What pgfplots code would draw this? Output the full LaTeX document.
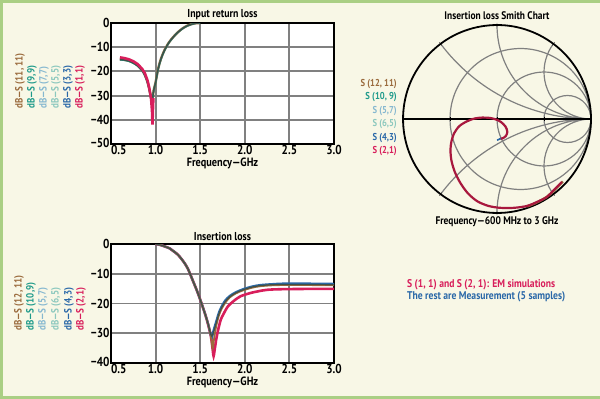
\documentclass[border=0pt]{standalone}
\usepackage{pgfplots}
\pgfplotsset{compat=1.18}
\usepgfplotslibrary{smithchart}
\usepackage{fontspec}
\setmainfont{PT Sans}[FakeStretch=0.86]
\definecolor{bg}{HTML}{F8F7E6}
\definecolor{frame}{HTML}{AACF84}
\definecolor{cbrown}{HTML}{9A6A3C}
\definecolor{cteal}{HTML}{1E9A8A}
\definecolor{clblue}{HTML}{86B8D0}
\definecolor{clteal}{HTML}{8CC8BE}
\definecolor{cblue}{HTML}{2A68A8}
\definecolor{ccrim}{HTML}{D81E5B}
\definecolor{cdark}{HTML}{3E5048}
\definecolor{sred}{HTML}{A8183E}
\definecolor{gridc}{HTML}{808080}

\pgfplotsset{
  rect/.style={
    scale only axis, width=223pt, xmin=0.5, xmax=3,
    xtick={0.5,1,1.5,2,2.5,3},
    xticklabels={\makebox[0pt][l]{0.5},1.0,1.5,2.0,2.5,3.0},
    grid=major, major tick length=0pt,
    axis line style={line width=2pt},
    grid style={line width=1.9pt, gridc},
    axis background/.style={fill=white},
    tick label style={font=\bfseries\fontsize{13}{14}\selectfont},
    xticklabel style={yshift=2pt},
    yticklabel style={xshift=2pt},
    title style={font=\bfseries\fontsize{11.5}{12}\selectfont, yshift=-6pt},
    xlabel style={font=\bfseries\fontsize{12}{13}\selectfont, yshift=4pt},
    clip=true,
  }
}

\begin{document}
\begin{tikzpicture}[x=1pt,y=1pt]
\fill[bg] (0,0) rectangle (600,399);
\useasboundingbox (0,0) rectangle (600,399);
\fill[frame] (0,0) rectangle (3,399);
\fill[frame] (0,396) rectangle (600,399);
\fill[frame] (0,0) rectangle (600,2.5);

% ---------------- Input return loss ----------------
\begin{axis}[rect, at={(111pt,255pt)}, anchor=south west, height=121pt,
  ymin=-50, ymax=0, ytick={-50,-40,-30,-20,-10,0},
  yticklabels={\raisebox{3pt}{−50},−40,−30,−20,−10,0},
  title={Input return loss}, xlabel={Frequency—GHz}]
\addplot[cbrown, line width=2.4pt, smooth] coordinates {
(0.60,-15.0) (0.65,-15.2) (0.70,-15.6) (0.75,-16.4) (0.80,-17.6) (0.85,-19.6)
(0.88,-21.5) (0.91,-24.5) (0.93,-27.5) (0.95,-31.0) (0.96,-32.0) (0.97,-30.0)
(0.98,-27.5) (1.00,-24.5) (1.03,-18.7) (1.06,-14.8) (1.10,-11.2) (1.15,-8.0)
(1.20,-5.7) (1.25,-3.8) (1.30,-2.3) (1.35,-1.2) (1.40,-0.5) (1.45,-0.1) (1.50,0)};
\addplot[cteal, line width=1.6pt, smooth] coordinates {
(0.60,-15.2) (0.65,-15.4) (0.70,-15.8) (0.75,-16.6) (0.80,-17.8) (0.85,-19.8)
(0.88,-21.7) (0.91,-24.7) (0.93,-27.8) (0.95,-31.5) (0.96,-32.5) (0.97,-30.2)
(0.98,-27.7) (1.00,-24.7) (1.03,-18.9) (1.06,-15.0) (1.10,-11.4) (1.15,-8.1)
(1.20,-5.8) (1.25,-3.9) (1.30,-2.4) (1.35,-1.3) (1.40,-0.6) (1.45,-0.1) (1.50,0)};
\addplot[cdark, line width=1.4pt, smooth] coordinates {
(0.60,-15.1) (0.65,-15.3) (0.70,-15.7) (0.75,-16.5) (0.80,-17.7) (0.85,-19.7)
(0.88,-21.6) (0.91,-24.6) (0.93,-27.6) (0.95,-31.2) (0.96,-32.3) (0.97,-30.1)
(0.98,-27.6) (1.00,-24.6) (1.03,-18.8) (1.06,-14.9) (1.10,-11.3) (1.15,-8.05)
(1.20,-5.75) (1.25,-3.85) (1.30,-2.35) (1.35,-1.25) (1.40,-0.55) (1.45,-0.1) (1.50,0)};
\addplot[ccrim, line width=2.6pt] coordinates {
(0.60,-14.2) (0.65,-14.5) (0.70,-15.0) (0.75,-15.8) (0.80,-17.0) (0.85,-19.0)
(0.88,-20.8) (0.91,-23.8) (0.93,-27.0) (0.95,-31.5) (0.96,-36.5) (0.965,-42.0)
(0.97,-36.0) (0.975,-31.0)};
\end{axis}

% ---------------- Insertion loss ----------------
\begin{axis}[rect, at={(111pt,36pt)}, anchor=south west, height=119pt,
  ymin=-40, ymax=0, ytick={-40,-30,-20,-10,0},
  yticklabels={\raisebox{3pt}{−40},−30,−20,−10,0},
  title={Insertion loss}, xlabel={Frequency—GHz}]
\addplot[ccrim, line width=2.6pt, smooth] coordinates {
(1.00,0) (1.05,-0.3) (1.10,-0.8) (1.16,-1.5) (1.20,-2.4) (1.25,-3.6) (1.31,-5.8)
(1.36,-8.2) (1.42,-12.5) (1.47,-16.2) (1.52,-20.4) (1.56,-24.0) (1.59,-27.2)
(1.62,-31.0) (1.64,-35.5) (1.65,-37.7) (1.66,-36.0) (1.68,-32.0) (1.70,-29.0)
(1.73,-25.5) (1.76,-23.6) (1.81,-21.0) (1.87,-19.3) (1.95,-17.6) (2.06,-16.5)
(2.15,-15.9) (2.25,-15.4) (2.40,-15.2) (2.70,-15.1) (3.00,-15.1)};
\addplot[cblue, line width=2.2pt, smooth] coordinates {
(1.00,0) (1.05,-0.3) (1.10,-0.8) (1.16,-1.5) (1.20,-2.4) (1.25,-3.6) (1.31,-5.8)
(1.36,-8.2) (1.42,-12.5) (1.47,-16.2) (1.52,-20.4) (1.56,-24.0) (1.59,-27.0)
(1.61,-29.5) (1.63,-31.6) (1.65,-29.0) (1.68,-26.0) (1.71,-23.0) (1.74,-21.0)
(1.78,-19.0) (1.83,-17.5) (1.90,-16.2) (1.98,-15.2) (2.08,-14.3) (2.17,-13.8)
(2.30,-13.5) (2.43,-13.3) (2.70,-13.3) (3.00,-13.4)};
\addplot[cbrown, line width=1.8pt, smooth] coordinates {
(1.00,0) (1.05,-0.3) (1.10,-0.8) (1.16,-1.5) (1.20,-2.4) (1.25,-3.6) (1.31,-5.8)
(1.36,-8.2) (1.42,-12.5) (1.47,-16.2) (1.52,-20.4) (1.56,-24.0) (1.59,-27.1)
(1.62,-31.0) (1.64,-35.0) (1.655,-32.0) (1.68,-27.5) (1.71,-24.0) (1.74,-21.8)
(1.78,-19.8) (1.83,-18.0) (1.90,-16.6) (1.98,-15.6) (2.08,-14.7) (2.17,-14.2)
(2.30,-13.9) (2.43,-13.8) (2.70,-13.8) (3.00,-13.9)};
\addplot[cdark, line width=1.2pt, smooth] coordinates {
(1.00,0) (1.05,-0.3) (1.10,-0.8) (1.16,-1.5) (1.20,-2.4) (1.25,-3.6) (1.31,-5.8)
(1.36,-8.2) (1.42,-12.5) (1.47,-16.2) (1.52,-20.4) (1.56,-24.0) (1.59,-27.0)
(1.61,-29.5) (1.63,-31.0) (1.65,-29.5) (1.68,-26.5) (1.71,-23.5) (1.74,-21.4)
(1.78,-19.4) (1.83,-17.8) (1.90,-16.4) (1.98,-15.4) (2.08,-14.5) (2.17,-14.0)
(2.30,-13.7) (2.43,-13.6) (2.70,-13.6) (3.00,-13.7)};
\end{axis}

% ---------------- Smith chart ----------------
\begin{smithchart}[at={(497pt,280pt)}, anchor=center, width=188pt, scale only axis,
  xtick={0.3333,1,3}, ytick={-2,-1,-0.5,0.5,1,2},
  xticklabels={,,}, yticklabels={,,,,,},
  grid style={line width=1.2pt, gridc},
  axis line style={line width=1.8pt, black}]
\addplot[is smithchart cs, black, line width=1.4pt] coordinates {(-1,0) (1,0)};
\addplot[is smithchart cs, cbrown, line width=2.4pt, smooth] coordinates {
(0.70,-0.665) (0.61,-0.755) (0.535,-0.825) (0.42,-0.89) (0.32,-0.93)};
\addplot[is smithchart cs, sred, line width=2.2pt, smooth] coordinates {
(0.69,-0.67) (0.60,-0.76) (0.53,-0.83) (0.42,-0.885) (0.32,-0.925) (0.18,-0.945)
(0.035,-0.945) (-0.09,-0.925) (-0.21,-0.875) (-0.31,-0.79) (-0.39,-0.68)
(-0.45,-0.56) (-0.485,-0.44) (-0.495,-0.33) (-0.485,-0.24) (-0.455,-0.15)
(-0.40,-0.075) (-0.32,-0.025) (-0.24,0.005) (-0.16,0.015) (-0.08,0.012)
(-0.02,-0.002) (0.04,-0.03) (0.09,-0.08) (0.11,-0.135) (0.095,-0.18)
(0.06,-0.205) (0.035,-0.21)};
\addplot[is smithchart cs, cblue, line width=1.6pt] coordinates {
(0.04,-0.205) (0.015,-0.22) (0.0,-0.225)};
\end{smithchart}

% ---------------- texts ----------------
\node[font=\bfseries\fontsize{11}{12}\selectfont] at (497,383) {Insertion loss Smith Chart};
\node[font=\bfseries\fontsize{11}{12}\selectfont] at (497,177) {Frequency—600 MHz to 3 GHz};

\begin{scope}[every node/.style={font=\bfseries\fontsize{10}{12}\selectfont, anchor=east, inner sep=0pt}]
\node[cbrown] at (397,315) {S (12, 11)};
\node[cteal]  at (397,301.5) {S (10, 9)};
\node[clblue] at (397,288) {S (5,7)};
\node[clteal] at (397,274.5) {S (6,5)};
\node[cblue]  at (397,261) {S (4,3)};
\node[ccrim]  at (397,247.5) {S (2,1)};
\end{scope}

\begin{scope}[every node/.style={font=\bfseries\fontsize{10.5}{12}\selectfont, anchor=west, inner sep=0pt, rotate=90}]
\node[cbrown] at (20,290) {dB—S (11, 11)};
\node[cteal]  at (32,290) {dB—S (9,9)};
\node[clblue] at (44,290) {dB—S (7,7)};
\node[clteal] at (56,290) {dB—S (5,5)};
\node[cblue]  at (68,290) {dB—S (3,3)};
\node[ccrim]  at (80,290) {dB—S (1,1)};
\node[cbrown] at (19,68) {dB—S (12, 11)};
\node[cteal]  at (31,68) {dB—S (10,9)};
\node[clblue] at (43,68) {dB—S (5,7)};
\node[clteal] at (56,68) {dB—S (6,5)};
\node[cblue]  at (69,68) {dB—S (4,3)};
\node[ccrim]  at (81,68) {dB—S (2,1)};
\end{scope}

\node[ccrim, font=\bfseries\fontsize{11.2}{12}\selectfont, anchor=west, inner sep=0pt] at (407,114) {S (1, 1) and S (2, 1): EM simulations};
\node[cblue, font=\bfseries\fontsize{11.2}{12}\selectfont, anchor=west, inner sep=0pt] at (407,102) {The rest are Measurement (5 samples)};
\end{tikzpicture}
\end{document}
